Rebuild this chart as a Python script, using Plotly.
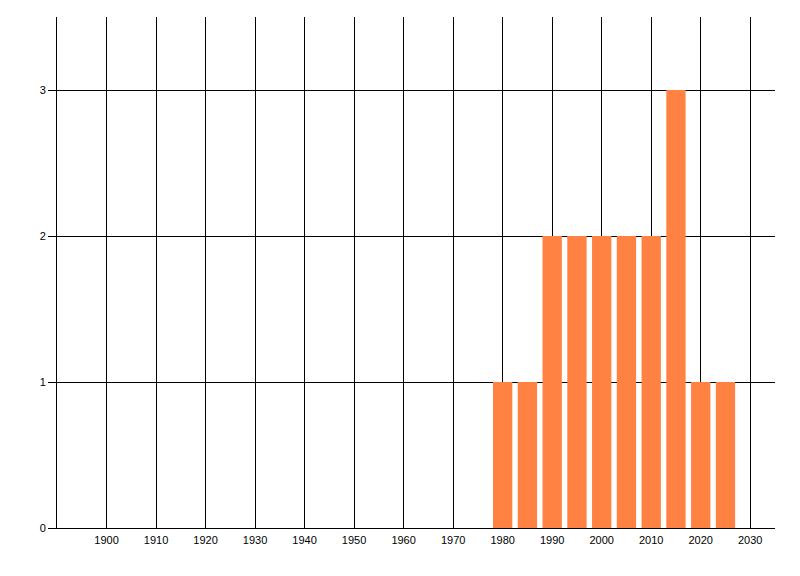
import plotly.graph_objects as go

years = [1980, 1985, 1990, 1995, 2000, 2005, 2010, 2015, 2020, 2025]
counts = [1, 1, 2, 2, 2, 2, 2, 3, 1, 1]
x_ticks = list(range(1900, 2031, 10))
y_ticks = [0, 1, 2, 3]

fig = go.Figure()
fig.add_trace(go.Bar(x=years, y=counts, width=3.9,
                     marker=dict(color="#FF8243", line=dict(width=0)),
                     hoverinfo="x+y"))

fig.update_layout(
    width=792, height=568,
    margin=dict(l=49, r=25, t=9, b=48),
    paper_bgcolor="white", plot_bgcolor="white",
    showlegend=False,
    font=dict(family="Liberation Sans, Arial, sans-serif", size=11, color="black"),
    xaxis=dict(range=[1890, 2035], tickvals=x_ticks, ticktext=[str(v) for v in x_ticks],
               showgrid=True, gridcolor="black", gridwidth=1,
               showline=True, linecolor="black", linewidth=1,
               ticks="", ticklabelstandoff=2,
               zeroline=False, fixedrange=True, automargin=False),
    yaxis=dict(range=[0, 3.5], tickvals=y_ticks, ticktext=[str(v) for v in y_ticks],
               showgrid=True, gridcolor="black", gridwidth=1,
               showline=True, linecolor="black", linewidth=1,
               ticks="outside", ticklen=8, tickcolor="black", tickwidth=1,
               zeroline=False, fixedrange=True, automargin=False),
)

fig.write_html("out.html")
